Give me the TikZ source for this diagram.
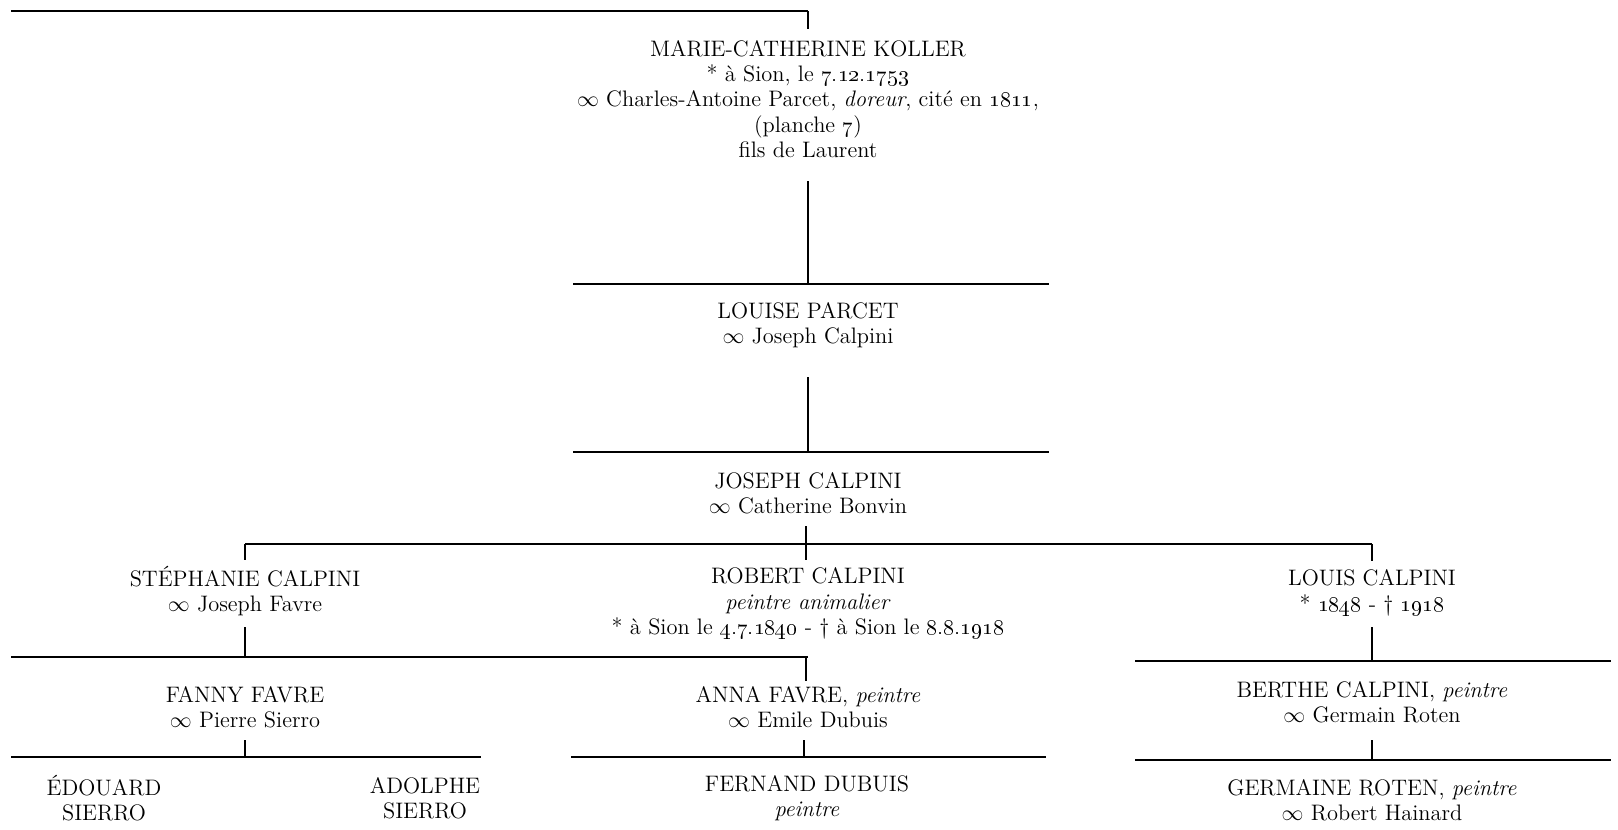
\documentclass[tikz,border=0pt]{standalone}
\usepackage{tikz}
\usetikzlibrary{positioning}
\newcommand{\osn}[1]{\oldstylenums{#1}}
\newcommand{\mar}{$\infty$\ }

\begin{document}
\begin{tikzpicture}[x=0.5pt,y=-0.5pt,
    person/.style={align=center,inner sep=0pt,font=\fontsize{11.2}{12.65}\selectfont},
    bar/.style={line width=1.25pt},
    stem/.style={line width=0.7pt}]
\useasboundingbox (0,0) rectangle (1618,830);

% persons
\node[person] (marie) at (808,99) {MARIE-CATHERINE KOLLER\\
    * à Sion, le \osn{7.12.1753}\\
    \mar Charles-Antoine Parcet, \textit{doreur}, cité en \osn{1811},\\
    (planche \osn{7})\\
    fils de Laurent};
\node[person] (louise) at (808,325) {LOUISE PARCET\\ \mar Joseph Calpini};
\node[person] (joseph) at (808,493.5) {JOSEPH CALPINI\\ \mar Catherine Bonvin};
\node[person] (stephanie) at (245,591) {STÉPHANIE CALPINI\\ \mar Joseph Favre};
\node[person] (robert) at (808,603.5) {ROBERT CALPINI\\ \textit{peintre animalier}\\
    * à Sion le \osn{4.7.1840} - \dag\ à Sion le \osn{8.8.1918}};
\node[person] (louis) at (1372,593) {LOUIS CALPINI\\ * \osn{1848} - \dag\ \osn{1918}};
\node[person] (fanny) at (245,707) {FANNY FAVRE\\ \mar Pierre Sierro};
\node[person] (anna) at (808,707) {ANNA FAVRE, \textit{peintre}\\ \mar Emile Dubuis};
\node[person] (berthe) at (1372,702.5) {BERTHE CALPINI, \textit{peintre}\\ \mar Germain Roten};
\node[person] (edouard) at (104,798) {ÉDOUARD\\ SIERRO};
\node[person] (adolphe) at (425,798) {ADOLPHE\\ SIERRO};
\node[person] (fernand) at (807,798.5) {FERNAND DUBUIS\\ \textit{peintre}};
\node[person] (germaine) at (1372,800) {GERMAINE ROTEN, \textit{peintre}\\ \mar Robert Hainard};

% bars and stems
\coordinate (b0l) at (11,11);   \coordinate (b0r) at (808,11);
\coordinate (s0) at (808,29);
\draw[bar] (b0l) -- (b0r);
\draw[stem] (b0r) -- (s0);

\coordinate (s1) at (808,181);
\coordinate (b1l) at (573,284); \coordinate (b1r) at (1049,284); \coordinate (b1m) at (808,284);
\draw[stem] (s1) -- (b1m);
\draw[bar] (b1l) -- (b1r);

\coordinate (s2) at (808,377);
\coordinate (b2l) at (573,452); \coordinate (b2r) at (1049,452); \coordinate (b2m) at (808,452);
\draw[stem] (s2) -- (b2m);
\draw[bar] (b2l) -- (b2r);

\coordinate (s3) at (806,526);
\coordinate (b3l) at (245,544); \coordinate (b3r) at (1372,544); \coordinate (b3m) at (806,544);
\draw[stem] (s3) -- (b3m);
\draw[bar] (b3l) -- (b3r);
\draw[stem] (b3l) -- (245,560) (b3m) -- (806,560) (b3r) -- (1372,561);

\coordinate (s4) at (245,627);
\coordinate (b4l) at (11,657); \coordinate (b4r) at (808,657); \coordinate (b4m) at (245,657);
\draw[stem] (s4) -- (b4m);
\draw[bar] (b4l) -- (b4r);
\draw[stem] (806,657) -- (806,681);

\coordinate (s5) at (1372,627);
\coordinate (b5l) at (1135,661); \coordinate (b5r) at (1611,661); \coordinate (b5m) at (1372,661);
\draw[stem] (s5) -- (b5m);
\draw[bar] (b5l) -- (b5r);

\coordinate (s6) at (245,740);
\coordinate (b6l) at (11,757); \coordinate (b6r) at (481,757); \coordinate (b6m) at (245,757);
\draw[stem] (s6) -- (b6m);
\draw[bar] (b6l) -- (b6r);

\coordinate (s7) at (804,740);
\coordinate (b7l) at (571,757); \coordinate (b7r) at (1046,757); \coordinate (b7m) at (804,757);
\draw[stem] (s7) -- (b7m);
\draw[bar] (b7l) -- (b7r);

\coordinate (s8) at (1372,740);
\coordinate (b8l) at (1135,760); \coordinate (b8r) at (1611,760); \coordinate (b8m) at (1372,760);
\draw[stem] (s8) -- (b8m);
\draw[bar] (b8l) -- (b8r);
\end{tikzpicture}
\end{document}
